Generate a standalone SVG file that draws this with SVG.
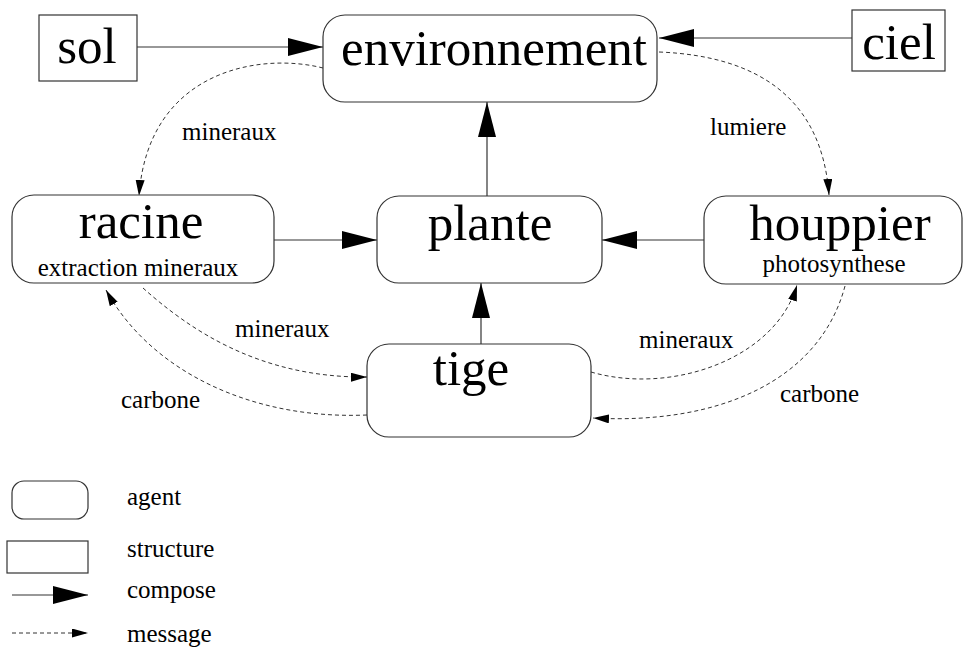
<svg xmlns="http://www.w3.org/2000/svg" width="966" height="647" viewBox="0 0 966 647">
  <style>
    .agent { fill: #fff; stroke: #333; stroke-width: 1.2; }
    .struct { fill: #fff; stroke: #333; stroke-width: 1.2; }
    .big { font-family: "Liberation Serif", "Times New Roman", serif; font-size: 51px; fill: #000; text-anchor: middle; }
    .small { font-family: "Liberation Serif", "Times New Roman", serif; font-size: 25px; fill: #000; }
    .mid { text-anchor: middle; }
    .compose { fill: none; stroke: #333; stroke-width: 1.2; marker-end: url(#head-compose); }
    .message { fill: none; stroke: #333; stroke-width: 1; stroke-dasharray: 4 3; marker-end: url(#head-message); }
  </style>
  <defs>
    <marker id="head-compose" markerUnits="userSpaceOnUse" markerWidth="36" markerHeight="18" refX="35" refY="9" orient="auto">
      <path d="M0,0 L35,9 L0,18 Z" fill="#000"/>
    </marker>
    <marker id="head-message" markerUnits="userSpaceOnUse" markerWidth="17" markerHeight="10" refX="16" refY="4.5" orient="auto">
      <path d="M0,0 L16,4.5 L0,9 Z" fill="#000"/>
    </marker>
  </defs>
  <rect width="966" height="647" fill="#fff"/>

  <!-- connectors -->
  <g id="connectors">
    <line class="compose" x1="137" y1="47" x2="323" y2="47"/>
    <line class="compose" x1="852" y1="38" x2="659" y2="38"/>
    <line class="compose" x1="487" y1="196" x2="487" y2="102"/>
    <line class="compose" x1="274" y1="240" x2="377" y2="240"/>
    <line class="compose" x1="704" y1="240" x2="602" y2="240"/>
    <line class="compose" x1="481" y1="344" x2="481" y2="283"/>

    <path class="message" d="M323,68 C260,52 148,70 139,196"/>
    <path class="message" d="M659,52 C760,56 822,100 829,195"/>
    <path class="message" d="M143,288 C190,330 260,378 367,377"/>
    <path class="message" d="M367,415 C250,420 150,370 106,290"/>
    <path class="message" d="M591,372 C670,395 775,360 797,285"/>
    <path class="message" d="M845,286 C820,380 720,425 593,418"/>

    <text class="small" x="182" y="140">mineraux</text>
    <text class="small" x="710" y="135">lumiere</text>
    <text class="small" x="235" y="337">mineraux</text>
    <text class="small" x="121" y="408">carbone</text>
    <text class="small" x="639" y="348">mineraux</text>
    <text class="small" x="780" y="402">carbone</text>
  </g>

  <!-- nodes -->
  <g id="sol">
    <rect class="struct" x="39" y="15" width="98" height="66"/>
    <text class="big" x="87" y="63">sol</text>
  </g>
  <g id="ciel">
    <rect class="struct" x="852" y="10" width="93" height="61"/>
    <text class="big" x="899" y="59">ciel</text>
  </g>
  <g id="environnement">
    <rect class="agent" x="323" y="15" width="334" height="87" rx="22" ry="22"/>
    <text class="big" x="494" y="65">environnement</text>
  </g>
  <g id="racine">
    <rect class="agent" x="12" y="195" width="262" height="88" rx="22" ry="22"/>
    <text class="big" x="141" y="238">racine</text>
    <text class="small mid" x="138" y="276">extraction mineraux</text>
  </g>
  <g id="plante">
    <rect class="agent" x="377" y="196" width="225" height="87" rx="22" ry="22"/>
    <text class="big" x="490" y="240">plante</text>
  </g>
  <g id="houppier">
    <rect class="agent" x="704" y="196" width="258" height="88" rx="22" ry="22"/>
    <text class="big" x="840" y="240">houppier</text>
    <text class="small mid" x="834" y="272">photosynthese</text>
  </g>
  <g id="tige">
    <rect class="agent" x="367" y="344" width="224" height="93" rx="22" ry="22"/>
    <text class="big" x="471" y="385">tige</text>
  </g>

  <!-- legend -->
  <g id="legend">
    <rect class="agent" x="12" y="481" width="76" height="38" rx="12" ry="12"/>
    <text class="small" x="127" y="505">agent</text>
    <rect class="struct" x="7" y="541" width="81" height="32"/>
    <text class="small" x="127" y="557">structure</text>
    <line class="compose" x1="12" y1="595" x2="88" y2="595"/>
    <text class="small" x="127" y="598">compose</text>
    <line class="message" x1="12" y1="633" x2="88" y2="633"/>
    <text class="small" x="127" y="642">message</text>
  </g>
</svg>
